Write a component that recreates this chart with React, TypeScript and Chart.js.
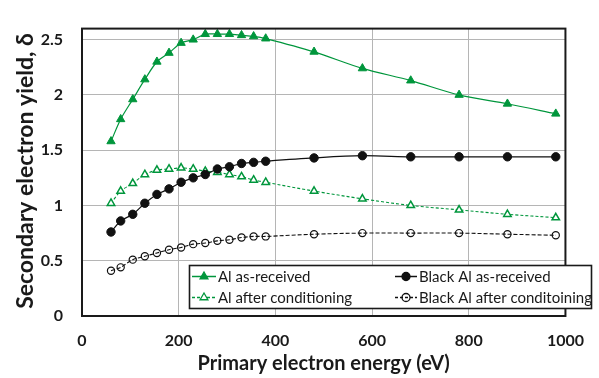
import React, { useEffect, useRef } from 'react';
import { Chart, registerables } from 'chart.js';

Chart.register(...registerables);

const energies = [60, 80, 105, 130, 155, 180, 205, 230, 255, 280, 305, 330, 355, 380, 480, 580, 680, 780, 880, 980];
const alAsReceived = [1.58, 1.78, 1.96, 2.14, 2.30, 2.38, 2.47, 2.50, 2.55, 2.55, 2.55, 2.54, 2.53, 2.51, 2.39, 2.24, 2.13, 2.00, 1.92, 1.83];
const blackAsReceived = [0.76, 0.86, 0.92, 1.02, 1.10, 1.15, 1.21, 1.25, 1.28, 1.33, 1.35, 1.38, 1.39, 1.40, 1.43, 1.45, 1.44, 1.44, 1.44, 1.44];
const alConditioned = [1.02, 1.13, 1.20, 1.28, 1.32, 1.33, 1.34, 1.33, 1.31, 1.30, 1.28, 1.26, 1.23, 1.21, 1.13, 1.06, 1.00, 0.96, 0.92, 0.89];
const blackConditioned = [0.41, 0.44, 0.51, 0.54, 0.57, 0.60, 0.62, 0.65, 0.66, 0.68, 0.69, 0.71, 0.72, 0.72, 0.74, 0.75, 0.75, 0.75, 0.74, 0.73];

const xTickValues = [0, 200, 400, 600, 800, 1000];
const yTickValues = [0, 0.5, 1, 1.5, 2, 2.5];
const seriesLabels = ['Al as-received', 'Black Al as-received', 'Al after conditioning', 'Black Al after conditoining'];
const xTitle = 'Primary electron energy (eV)';
const yTitle = 'Secondary electron yield, δ';

const GREEN = '#00963C';
const BLACK = '#111111';
const FONT = 'Lato, "Open Sans", sans-serif';

function pts(ys: number[]) {
  return energies.map((x, i) => ({ x, y: ys[i] }));
}

function drawMarker(ctx: CanvasRenderingContext2D, kind: string, x: number, y: number, color: string, filled: boolean, r: number) {
  ctx.save();
  ctx.setLineDash([]);
  ctx.beginPath();
  if (kind === 'triangle') {
    for (let k = 0; k < 3; k++) {
      const a = (k * 2 * Math.PI) / 3;
      const px = x + Math.sin(a) * r;
      const py = y - Math.cos(a) * r;
      if (k === 0) ctx.moveTo(px, py);
      else ctx.lineTo(px, py);
    }
    ctx.closePath();
  } else {
    ctx.arc(x, y, r, 0, Math.PI * 2);
  }
  if (filled) {
    ctx.fillStyle = color;
    ctx.fill();
  } else if (kind === 'triangle') {
    ctx.fillStyle = '#ffffff';
    ctx.fill();
  }
  ctx.strokeStyle = color;
  ctx.lineWidth = 1.3;
  ctx.stroke();
  ctx.restore();
}

const framePlugin = {
  id: 'frameAndLegend',
  afterDraw(chart: any) {
    const { ctx, chartArea } = chart;
    ctx.save();
    // plot frame
    ctx.strokeStyle = '#1a1a1a';
    ctx.lineWidth = 2;
    ctx.strokeRect(chartArea.left, chartArea.top, chartArea.right - chartArea.left, chartArea.bottom - chartArea.top);

    // y title
    ctx.save();
    ctx.translate(26, 171);
    ctx.rotate(-Math.PI / 2);
    ctx.font = `bold 23px ${FONT}`;
    ctx.fillStyle = '#1a1a1a';
    ctx.textAlign = 'center';
    ctx.textBaseline = 'middle';
    ctx.fillText(yTitle, 0, 0);
    ctx.restore();

    // legend box
    const bx = 189.5, by = 265.5, bw = 402, bh = 43;
    ctx.fillStyle = '#ffffff';
    ctx.fillRect(bx, by, bw, bh);
    ctx.strokeStyle = '#1a1a1a';
    ctx.lineWidth = 1.6;
    ctx.strokeRect(bx, by, bw, bh);

    const entries = [
      { label: seriesLabels[0], x0: 192, x1: 216, y: 276.5, color: GREEN, dash: [], kind: 'triangle', filled: true },
      { label: seriesLabels[2], x0: 192, x1: 216, y: 297.5, color: GREEN, dash: [3, 2], kind: 'triangle', filled: false },
      { label: seriesLabels[1], x0: 395, x1: 417, y: 276.5, color: BLACK, dash: [], kind: 'circle', filled: true },
      { label: seriesLabels[3], x0: 395, x1: 417, y: 297.5, color: BLACK, dash: [3, 2], kind: 'circle', filled: false },
    ];
    for (const e of entries) {
      ctx.save();
      ctx.strokeStyle = e.color;
      ctx.lineWidth = 1.5;
      ctx.setLineDash(e.dash);
      ctx.beginPath();
      ctx.moveTo(e.x0, e.y);
      ctx.lineTo(e.x1, e.y);
      ctx.stroke();
      ctx.restore();
      drawMarker(ctx, e.kind, (e.x0 + e.x1) / 2, e.y, e.color, e.filled, e.kind === 'triangle' ? 4.5 : 4);
      ctx.font = `15px ${FONT}`;
      ctx.fillStyle = '#1a1a1a';
      ctx.textAlign = 'left';
      ctx.textBaseline = 'middle';
      ctx.fillText(e.label, e.x1 + 2, e.y + 0.5);
    }
    ctx.restore();
  },
};

export default function App() {
  const canvasRef = useRef<HTMLCanvasElement | null>(null);

  useEffect(() => {
    if (!canvasRef.current) return;
    const chart = new Chart(canvasRef.current, {
      type: 'line',
      data: {
        datasets: [
          {
            label: seriesLabels[0],
            data: pts(alAsReceived),
            borderColor: GREEN,
            backgroundColor: GREEN,
            borderWidth: 1.2,
            pointStyle: 'triangle',
            pointRadius: 4.8,
            pointBorderWidth: 1,
            pointBackgroundColor: GREEN,
            pointBorderColor: GREEN,
            tension: 0.3,
          },
          {
            label: seriesLabels[1],
            data: pts(blackAsReceived),
            borderColor: BLACK,
            backgroundColor: BLACK,
            borderWidth: 1.2,
            pointStyle: 'circle',
            pointRadius: 4.2,
            pointBorderWidth: 1,
            pointBackgroundColor: BLACK,
            pointBorderColor: BLACK,
            tension: 0.3,
          },
          {
            label: seriesLabels[2],
            data: pts(alConditioned),
            borderColor: GREEN,
            backgroundColor: '#ffffff',
            borderWidth: 1.1,
            borderDash: [3, 2],
            pointStyle: 'triangle',
            pointRadius: 4.3,
            pointBorderWidth: 1.5,
            pointBackgroundColor: '#ffffff',
            pointBorderColor: GREEN,
            tension: 0.3,
          },
          {
            label: seriesLabels[3],
            data: pts(blackConditioned),
            borderColor: BLACK,
            backgroundColor: 'rgba(0,0,0,0)',
            borderWidth: 1.1,
            borderDash: [4, 2],
            pointStyle: 'circle',
            pointRadius: 3.6,
            pointBorderWidth: 1.2,
            pointBackgroundColor: 'rgba(0,0,0,0)',
            pointBorderColor: BLACK,
            tension: 0.3,
          },
        ],
      },
      options: {
        animation: false,
        responsive: false,
        devicePixelRatio: 1,
        layout: { padding: { left: 0, right: 31, top: 7, bottom: 0 } },
        plugins: {
          legend: { display: false },
          tooltip: { enabled: false },
        },
        elements: { line: { fill: false } },
        scales: {
          x: {
            type: 'linear',
            min: 0,
            max: 1000,
            afterBuildTicks: (scale: any) => {
              scale.ticks = xTickValues.map((v) => ({ value: v }));
            },
            afterFit: (scale: any) => {
              scale.height = 62;
            },
            grid: { color: '#b5b5b5', lineWidth: 1, drawTicks: false },
            border: { display: false },
            ticks: {
              padding: 15,
              color: '#1a1a1a',
              font: { family: FONT, size: 16, weight: 'bold' },
              callback: (v: any) => String(v),
              maxRotation: 0,
            },
            title: {
              display: true,
              text: xTitle,
              color: '#1a1a1a',
              font: { family: FONT, size: 20, weight: 'bold' },
              padding: { top: 0, bottom: 2 },
            },
          },
          y: {
            type: 'linear',
            min: 0,
            max: 2.6,
            afterBuildTicks: (scale: any) => {
              scale.ticks = yTickValues.map((v) => ({ value: v }));
            },
            afterFit: (scale: any) => {
              scale.width = 82;
            },
            grid: { color: '#b5b5b5', lineWidth: 1, drawTicks: false },
            border: { display: false },
            ticks: {
              padding: 19,
              color: '#1a1a1a',
              font: { family: FONT, size: 16, weight: 'bold' },
              callback: (v: any) => String(v),
            },
            title: { display: false },
          },
        },
      } as any,
      plugins: [framePlugin],
    });
    return () => chart.destroy();
  }, []);

  return (
    <div style={{ position: 'absolute', left: 0, top: 0, width: 599, height: 378, background: '#ffffff' }}>
      <canvas ref={canvasRef} width={599} height={378} style={{ display: 'block', width: 599, height: 378 }} />
    </div>
  );
}
